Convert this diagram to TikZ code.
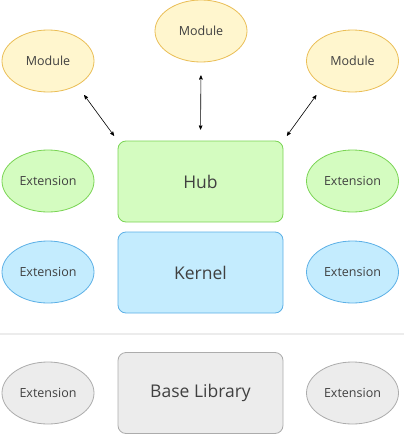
\documentclass[tikz,border=0pt]{standalone}
\usepackage{fontspec}
\setmainfont{Open Sans}
\usepackage{tikz}
\usetikzlibrary{positioning,shapes,calc,arrows}
\definecolor{myyellow}{RGB}{255,246,206}
\definecolor{myyellowline}{RGB}{234,190,86}
\definecolor{mygreen}{RGB}{212,252,192}
\definecolor{mygreenline}{RGB}{122,212,84}
\definecolor{myblue}{RGB}{196,236,254}
\definecolor{mybllueline}{RGB}{92,176,230}
\definecolor{mygray}{RGB}{236,236,236}
\definecolor{mygrayline}{RGB}{172,172,172}
\definecolor{mytext}{RGB}{64,64,64}
\begin{document}
\begin{tikzpicture}[
          x=1pt,y=-1pt,
          every node/.style={text=mytext},
          ext/.style={ellipse,draw,line width=0.8pt,minimum width=92pt,minimum height=62pt,inner sep=0pt,font=\fontsize{12.5}{14}\selectfont},
          module/.style={ext,fill=myyellow,draw=myyellowline},
          layer/.style={rectangle,rounded corners=8pt,draw,line width=0.8pt,minimum width=165pt,minimum height=81pt,font=\fontsize{17.5}{20}\selectfont},
          link/.style={<->,>=stealth',line width=0.6pt}
          ]
          \useasboundingbox (0,0) rectangle (404,434);
          % the layers
          \node[layer,fill=mygreen,draw=mygreenline] (hub) at (200.5,181.5) {Hub};
          \node[layer,fill=myblue,draw=mybllueline] (kernel) at (200.5,272.5) {Kernel};
          \node[layer,fill=mygray,draw=mygrayline] (base) at (200.5,393) {Base Library};
          % the modules
          \node[module] (ml) at (48,61) {Module};
          \node[module] (mt) at (201,31) {Module};
          \node[module] (mr) at (352.5,61) {Module};
          % the extensions
          \foreach \i/\ycoord/\col in {1/181/green,2/272/blue,3/393/gray}
          {
            \ifnum\i=2 \def\lc{mybllueline}\else\def\lc{my\col line}\fi
            \node[ext,fill=my\col,draw=\lc] (el\i) at (48,\ycoord) {Extension};
            \node[ext,fill=my\col,draw=\lc] (er\i) at (352.5,\ycoord) {Extension};
          }
          % the separator
          \coordinate (sl) at (0,334);
          \coordinate (sr) at (404,334);
          \draw[mygray,line width=1.2pt] (sl) -- (sr);
          % the edges
          \draw[link,shorten <=12pt,shorten >=6pt] (ml.-40) -- (hub.north west);
          \draw[link,shorten <=13pt,shorten >=11pt] (mt.south) -- (hub.north);
          \draw[link,shorten <=12pt,shorten >=6pt] (mr.-140) -- (hub.north east);
        \end{tikzpicture}
\end{document}
